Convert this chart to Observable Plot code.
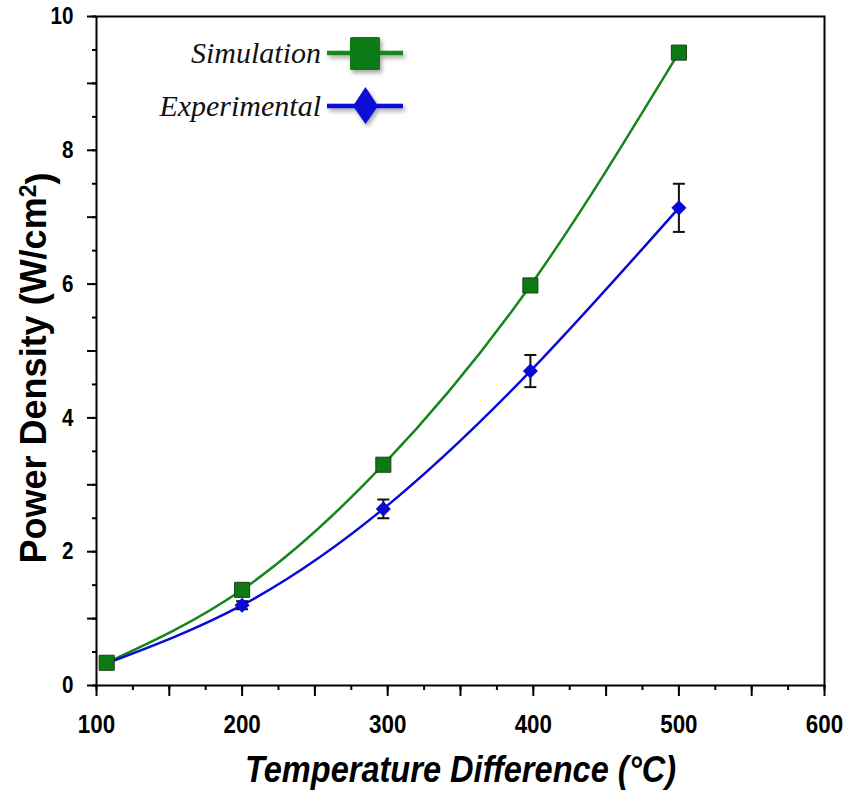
<!DOCTYPE html>
<html>
<head>
<meta charset="utf-8">
<script src="https://cdn.jsdelivr.net/npm/d3@7"></script>
<script src="https://cdn.jsdelivr.net/npm/@observablehq/plot@0.6"></script>
<style>
  html, body { margin: 0; padding: 0; background: #fff; }
  #wrap { position: relative; width: 848px; height: 793px; }
  #legend { position: absolute; left: 0; top: 0; width: 848px; height: 140px; pointer-events: none; }
</style>
</head>
<body>
<div id="wrap">
  <div id="chart"></div>
  <svg id="legend" width="848" height="140"></svg>
</div>
<script>
// ---- data ----
const temperature = [107, 200, 297, 398, 500];
const simulation = [0.34, 1.43, 3.30, 5.98, 9.46];
const experimental = [0.33, 1.20, 2.64, 4.70, 7.14];
const experimentalErr = [0.02, 0.06, 0.14, 0.24, 0.36];
const xTickLabels = [100, 200, 300, 400, 500, 600];
const yTickLabels = [0, 2, 4, 6, 8, 10];
const seriesNames = ["Simulation", "Experimental"];
const xTitle = "Temperature Difference (°C)";
const yTitle = "Power Density (W/cm²)";

const simData = temperature.map((t, i) => ({t, v: simulation[i]}));
const expData = temperature.map((t, i) => ({t, v: experimental[i], lo: experimental[i] - experimentalErr[i], hi: experimental[i] + experimentalErr[i]}));

const green = "#15871a";
const greenFill = "#0b7a12";
const blue = "#0a0ad6";

const sans = "'Liberation Sans', Arial, sans-serif";

const xMinor = d3.range(100, 601, 25);
const xMajor = d3.range(100, 601, 50);
const yMinor = d3.range(0, 10.01, 0.5);
const yMajor = d3.range(0, 10.01, 1);

// horizontal cap symbol for error bars
const capSymbol = {draw(ctx) { ctx.moveTo(-6, 0); ctx.lineTo(6, 0); }};

const chart = Plot.plot({
  width: 848,
  height: 793,
  marginLeft: 96,
  marginRight: 24,
  marginTop: 16,
  marginBottom: 108,
  style: {fontFamily: sans, fontWeight: "bold", fontSize: "27px", color: "#000", background: "#fff"},
  x: {domain: [100, 600]},
  y: {domain: [0, 10]},
  marks: [
    Plot.axisX(xMinor, {tickSize: 5, tickFormat: () => "", label: null, strokeWidth: 2}),
    Plot.axisX(xMajor, {tickSize: 11, tickPadding: 18, strokeWidth: 2, tickFormat: d => xTickLabels.includes(d) ? String(d) : "", label: null, fontSize: 26, fontFamily: sans, fontWeight: "bold", className: "xlab"}),
    Plot.axisY(yMinor, {tickSize: 4, tickFormat: () => "", label: null, strokeWidth: 2}),
    Plot.axisY(yMajor, {tickSize: 9, tickPadding: 14, strokeWidth: 2, tickFormat: d => yTickLabels.includes(d) ? String(d) : "", label: null, fontSize: 24, fontFamily: sans, fontWeight: "bold", className: "ylab"}),
    Plot.frame({stroke: "#000", strokeWidth: 2}),
    Plot.line(simData, {x: "t", y: "v", curve: "natural", stroke: green, strokeWidth: 2.5}),
    Plot.line(expData, {x: "t", y: "v", curve: "natural", stroke: blue, strokeWidth: 2.5}),
    Plot.ruleX(expData, {x: "t", y1: "lo", y2: "hi", stroke: "#111", strokeWidth: 2}),
    Plot.dot(expData, {x: "t", y: "lo", symbol: capSymbol, stroke: "#111", strokeWidth: 2, r: 6}),
    Plot.dot(expData, {x: "t", y: "hi", symbol: capSymbol, stroke: "#111", strokeWidth: 2, r: 6}),
    Plot.dot(expData, {x: "t", y: "v", symbol: "diamond2", r: 6.8, fill: blue, stroke: null}),
    Plot.dot(simData, {x: "t", y: "v", symbol: "square", r: 8.5, fill: greenFill, stroke: "#1f3d1f", strokeWidth: 1}),
    Plot.text([xTitle], {frameAnchor: "bottom", dy: 96, fontSize: 37, fontStyle: "italic", fontWeight: "bold", fontFamily: sans, fill: "#000", className: "xtitle"}),
    Plot.text([yTitle], {frameAnchor: "left", textAnchor: "middle", dx: -62, dy: 17, rotate: -90, fontSize: 36, fontWeight: "bold", fontFamily: sans, fill: "#000", className: "ytitle"})
  ]
});
document.getElementById("chart").appendChild(chart);

// narrow the condensed-style texts (Arial Narrow look)
const svg = d3.select(chart);
function squeeze(sel, k) {
  sel.each(function () {
    const w = this.getComputedTextLength();
    if (w > 0) { d3.select(this).attr("textLength", w * k).attr("lengthAdjust", "spacingAndGlyphs"); }
  });
}
squeeze(svg.selectAll(".xlab text"), 0.86);
squeeze(svg.selectAll(".ylab text"), 0.86);
squeeze(svg.selectAll(".xtitle text"), 0.88);

// superscript in y title
svg.selectAll(".ytitle text").each(function () {
  const t = d3.select(this);
  const base = yTitle.replace("²)", "");
  t.text(null);
  t.append("tspan").text(base);
  t.append("tspan").attr("dy", "-0.45em").attr("font-size", 23).text("2");
  t.append("tspan").attr("dy", "0.45em").text(")");
});
</script>
<script>
// Legend (inside plot, upper-left)
const lg = d3.select("#legend");
const defs = lg.append("defs");
const f = defs.append("filter").attr("id", "sh").attr("x", "-30%").attr("y", "-30%").attr("width", "160%").attr("height", "160%");
f.append("feDropShadow").attr("dx", 2).attr("dy", 3).attr("stdDeviation", 2).attr("flood-color", "#000").attr("flood-opacity", 0.35);
const rows = [
  {name: seriesNames[0], y: 53, color: green, fill: greenFill, sym: "square"},
  {name: seriesNames[1], y: 106, color: blue, fill: blue, sym: "diamond"}
];
rows.forEach(r => {
  lg.append("text").attr("x", 321).attr("y", r.y + 10).attr("text-anchor", "end")
    .attr("font-family", "'Liberation Serif', 'Times New Roman', serif").attr("font-style", "italic")
    .attr("font-size", 30).attr("fill", "#111").text(r.name);
  const g = lg.append("g").attr("filter", "url(#sh)");
  g.append("line").attr("x1", 327).attr("x2", 403).attr("y1", r.y).attr("y2", r.y)
    .attr("stroke", r.color).attr("stroke-width", 4.5);
  if (r.sym === "square") {
    g.append("rect").attr("x", 350).attr("y", r.y - 16).attr("width", 30).attr("height", 33).attr("rx", 1.5)
      .attr("fill", r.fill);
  } else {
    g.append("polygon").attr("points", `${365.5},${r.y - 19} ${378},${r.y} ${365.5},${r.y + 18} ${353},${r.y}`)
      .attr("fill", r.fill);
  }
});
</script>
</body>
</html>
